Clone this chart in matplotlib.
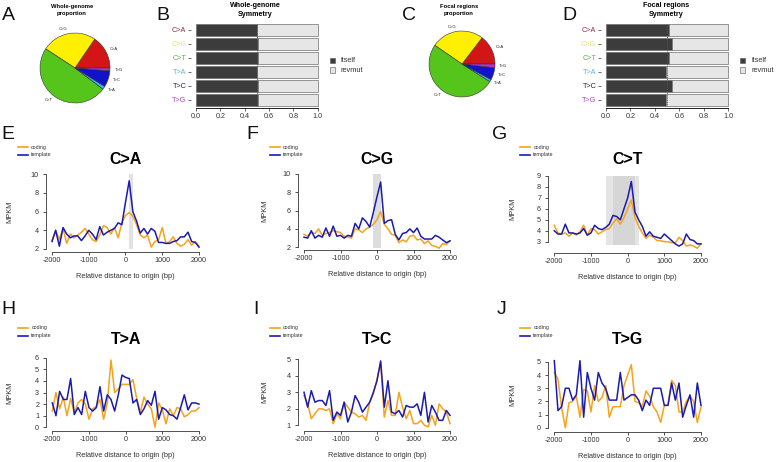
import matplotlib
matplotlib.use("Agg")
import matplotlib.pyplot as plt
from matplotlib.lines import Line2D
from matplotlib.patches import Rectangle
import numpy as np

plt.rcParams['font.family'] = ['Liberation Sans', 'DejaVu Sans']
plt.rcParams['axes.unicode_minus'] = False

W, H = 776, 462

# ---------------- data ----------------
mut_types = ["C>A", "C>G", "C>T", "T>A", "T>C", "T>G"]
pie_colors = ["#D41515", "#FFF000", "#55C41B", "#35B6E6", "#1212CC", "#C02EC8"]
label_colors = ["#8A2E3A", "#E8E25A", "#5DAE45", "#58B4DA", "#22224E", "#A848B0"]

whole_prop = [0.155, 0.253, 0.489, 0.015, 0.075, 0.013]
focal_prop = [0.146, 0.258, 0.506, 0.012, 0.060, 0.018]

whole_itself = [0.500, 0.510, 0.507, 0.502, 0.507, 0.507]
focal_itself = [0.518, 0.537, 0.518, 0.490, 0.537, 0.490]

dist = np.arange(-2000, 2001, 100)

ca_coding = [2.9, 4.0, 3.0, 4.2, 2.6, 3.6, 3.2, 3.5, 3.8, 4.2, 3.6, 3.0, 2.8, 3.5, 4.5, 4.3,
             3.6, 4.3, 3.2, 4.8, 5.6, 5.9, 5.5, 4.6, 3.5, 3.2, 3.5, 2.2, 2.8, 3.0, 4.3, 2.6,
             2.8, 3.3, 2.6, 2.3, 2.5, 3.0, 2.4, 2.8, 2.3]
ca_template = [2.8, 4.0, 2.3, 4.3, 3.6, 3.2, 3.4, 3.4, 2.9, 3.4, 4.0, 3.6, 3.0, 4.4, 3.5, 3.8,
               4.0, 4.2, 4.8, 4.6, 7.0, 9.3, 6.0, 5.0, 3.7, 4.2, 3.6, 4.2, 3.9, 2.7, 2.7, 2.6,
               2.6, 2.8, 2.9, 3.3, 3.3, 3.8, 2.8, 2.7, 2.2]

cg_coding = [3.4, 3.2, 3.6, 3.5, 4.0, 3.3, 3.5, 3.6, 3.8, 3.7, 3.6, 3.2, 3.1, 3.0, 4.0, 3.9,
             3.6, 4.0, 4.2, 4.5, 5.0, 5.9, 4.5, 4.0, 3.4, 3.3, 2.5, 2.8, 2.6, 3.2, 3.3, 2.8,
             2.9, 2.4, 2.7, 2.2, 2.1, 1.9, 2.4, 2.3, 2.7]
cg_template = [3.1, 3.0, 3.8, 3.0, 3.3, 3.1, 4.1, 3.2, 4.3, 3.2, 3.3, 3.0, 3.3, 3.2, 4.6, 4.0,
               5.2, 4.8, 4.2, 5.8, 7.5, 9.1, 4.6, 4.9, 5.0, 3.4, 2.8, 3.5, 3.6, 4.0, 3.6, 4.1,
               3.2, 2.9, 2.9, 2.9, 3.3, 3.1, 2.8, 2.5, 2.7]

ct_coding = [4.5, 3.8, 3.7, 3.8, 3.5, 3.8, 3.6, 3.9, 4.5, 3.6, 4.2, 4.1, 3.7, 3.9, 4.1, 4.2,
             4.7, 5.1, 4.6, 5.2, 6.0, 6.8, 5.2, 4.4, 3.8, 3.3, 3.6, 3.4, 3.1, 3.1, 3.0, 3.0,
             2.9, 2.9, 3.4, 3.1, 2.6, 2.7, 2.6, 2.4, 2.8]
ct_template = [4.0, 3.7, 3.7, 4.6, 3.8, 3.8, 3.7, 3.8, 4.2, 3.6, 3.8, 4.5, 4.2, 4.1, 4.3, 4.6,
               5.4, 5.3, 5.0, 6.0, 7.0, 8.5, 5.7, 5.0, 4.4, 3.5, 3.9, 3.5, 3.4, 3.3, 3.7, 3.4,
               3.1, 2.8, 2.6, 2.8, 3.7, 3.2, 3.1, 2.8, 2.8]

ta_coding = [1.4, 3.0, 1.6, 2.6, 1.0, 2.5, 1.2, 2.1, 2.4, 2.0, 0.7, 1.6, 1.8, 2.4, 0.7, 2.1,
             5.8, 3.0, 3.3, 3.7, 3.7, 3.7, 4.1, 2.5, 1.3, 2.6, 2.0, 1.6, 0.0, 2.1, 1.5, 0.3,
             1.6, 1.0, 1.7, 1.6, 0.9, 1.1, 1.4, 1.4, 1.7]
ta_template = [2.1, 1.0, 3.1, 2.4, 2.4, 4.2, 1.1, 1.7, 1.1, 3.1, 1.7, 1.4, 1.7, 3.5, 1.4, 2.8,
               2.4, 1.4, 2.8, 4.5, 4.3, 4.2, 2.1, 2.4, 1.1, 1.6, 2.3, 1.9, 3.1, 0.7, 1.7, 1.5,
               1.1, 1.0, 0.7, 1.7, 2.8, 1.5, 2.1, 2.1, 2.0]

tc_coding = [2.8, 2.3, 1.4, 1.7, 2.0, 2.0, 1.9, 2.0, 1.1, 1.7, 1.4, 2.4, 2.1, 1.8, 1.7, 1.5,
             1.6, 1.3, 2.4, 2.9, 3.8, 4.8, 1.5, 2.5, 1.6, 1.6, 3.0, 2.1, 1.4, 1.9, 1.1, 1.1,
             1.3, 1.0, 0.9, 1.6, 1.0, 2.3, 2.0, 1.8, 1.1]
tc_template = [3.0, 2.1, 3.1, 2.4, 2.5, 2.5, 2.2, 3.1, 1.3, 1.8, 1.6, 2.4, 1.2, 1.8, 2.8, 2.4,
               1.8, 2.1, 2.4, 3.0, 3.7, 4.9, 2.1, 3.7, 1.8, 1.7, 1.9, 1.5, 2.2, 2.1, 2.1, 2.3,
               1.6, 3.0, 1.2, 2.2, 1.8, 1.3, 1.3, 1.9, 1.6]

tg_coding = [4.2, 3.7, 1.5, 0.0, 1.9, 2.0, 2.4, 0.8, 2.9, 2.8, 1.2, 3.2, 2.0, 2.3, 3.2, 0.8,
             1.6, 1.6, 1.6, 3.2, 4.0, 4.8, 2.0, 1.9, 1.6, 2.8, 2.4, 1.6, 1.2, 0.4, 1.7, 1.7,
             3.6, 3.2, 1.2, 1.2, 2.0, 2.4, 2.0, 0.4, 1.6]
tg_template = [5.1, 1.3, 1.6, 3.0, 3.0, 2.1, 2.5, 5.1, 0.8, 4.2, 3.0, 2.1, 4.2, 3.4, 3.0, 2.1,
               2.1, 2.1, 4.2, 2.1, 2.3, 2.5, 2.5, 2.1, 1.3, 2.1, 1.7, 3.0, 3.0, 3.0, 1.7, 1.7,
               3.4, 2.1, 3.4, 0.8, 1.7, 2.5, 0.8, 3.4, 1.7]

CODING = "#F5A31A"
TEMPLATE = "#1B1BB0"

fig = plt.figure(figsize=(W / 100, H / 100), dpi=100)


def frect(l, t, r, b):
    return [l / W, 1 - b / H, (r - l) / W, (b - t) / H]


def ftext(x, y, s, **kw):
    fig.text(x / W, 1 - y / H, s, **kw)


# ---------------- pies ----------------
def pie_panel(cx, cy, r, props, title):
    ax = fig.add_axes(frect(cx - r, cy - r, cx + r, cy + r))
    ax.pie(props, colors=pie_colors, labels=mut_types, startangle=0,
           counterclock=True, labeldistance=1.13,
           wedgeprops=dict(edgecolor="#333333", linewidth=0.4),
           textprops=dict(fontsize=3, color="#222222"))
    ax.set_xlim(-1, 1)
    ax.set_ylim(-1, 1)
    ftext(cx - 3, 10, title, ha="center", va="center", fontsize=4.2,
          fontweight="bold", linespacing=1.5)


pie_panel(75, 68, 35, whole_prop, "Whole-genome\nproportion")
pie_panel(462, 64, 33, focal_prop, "Focal regions\nproportion")


# ---------------- symmetry bars ----------------
def bar_panel(px0, px1, itself, title, tcx, leg_x):
    w = px1 - px0
    ax = fig.add_axes(frect(px0 - 0.04 * w, 22, px1 + 0.04 * w, 108))
    y = np.arange(len(mut_types))
    itself = np.array(itself)
    ax.barh(y, itself, height=0.857, color="#3C3C3C", edgecolor="#6E6E6E", linewidth=0.5)
    ax.barh(y, 1 - itself, left=itself, height=0.857, color="#E6E6E6",
            edgecolor="#6E6E6E", linewidth=0.5)
    ax.vlines(0.5, y[0] - 0.45, y[-1] + 0.45, colors="#D02020", linewidth=0.6,
              linestyles=(0, (1.5, 1)))
    ax.set_xlim(-0.04, 1.04)
    ax.set_ylim(5 + 8 / 14, -8 / 14)
    for s in ["top", "right", "left"]:
        ax.spines[s].set_visible(False)
    ax.spines["bottom"].set_bounds(0, 1)
    ax.spines["bottom"].set_linewidth(0.6)
    ax.set_xticks(np.arange(0, 1.01, 0.2))
    ax.set_xticklabels(["0.0", "0.2", "0.4", "0.6", "0.8", "1.0"])
    ax.set_yticks(y)
    ax.set_yticklabels(mut_types)
    ax.tick_params(axis="both", labelsize=5.2, length=2, width=0.5, pad=1.5,
                   colors="#333333")
    for lab, c in zip(ax.get_yticklabels(), label_colors):
        lab.set_color(c)
    ftext(tcx, 10, title, ha="center", va="center", fontsize=5.1,
          fontweight="bold", linespacing=1.4)
    for yy, fc, name in [(60.5, "#3C3C3C", "itself"), (70, "#E6E6E6", "revmut")]:
        fig.add_artist(Rectangle((leg_x / W, 1 - (yy + 2.5) / H), 5 / W, 5 / H,
                                 facecolor=fc, edgecolor="#555555", linewidth=0.4,
                                 transform=fig.transFigure))
        ftext(leg_x + 11, yy, name, ha="left", va="center", fontsize=5.3, color="#333333")


bar_panel(196, 317.7, whole_itself, "Whole-genome\nSymmetry", 255, 329.5)
bar_panel(606, 728.3, focal_itself, "Focal regions\nSymmetry", 666, 740)


# ---------------- line panels ----------------
def line_panel(px0, px1, py_lo, py_hi, bottom_px, yticks, coding, template, bands,
               title, title_y, leg_y, ylab_x):
    y_lo, y_hi = yticks[0], yticks[-1]
    s = (py_lo - py_hi) / (y_hi - y_lo)
    ybot = y_lo - (bottom_px - py_lo) / s
    top_px = py_hi - 6
    ytop = y_hi + 6 / s
    w = px1 - px0
    ax = fig.add_axes(frect(px0 - 0.04 * w, top_px, px1 + 0.04 * w, bottom_px))
    for (a, b, lo, hi, c) in bands:
        ax.fill_betweenx([lo, hi], a, b, color=c, linewidth=0)
    ax.plot(dist, coding, color=CODING, lw=1.1)
    ax.plot(dist, template, color=TEMPLATE, lw=1.1)
    ax.set_xlim(-2160, 2160)
    ax.set_ylim(ybot, ytop)
    for sp in ["top", "right"]:
        ax.spines[sp].set_visible(False)
    ax.spines["bottom"].set_bounds(-2000, 2000)
    ax.spines["left"].set_bounds(y_lo, y_hi)
    for sp in ["bottom", "left"]:
        ax.spines[sp].set_linewidth(0.6)
        ax.spines[sp].set_color("#333333")
    ax.set_xticks([-2000, -1000, 0, 1000, 2000])
    ax.set_yticks(yticks)
    ax.tick_params(axis="both", labelsize=5.2, length=2.2, width=0.6, colors="#333333")
    ax.tick_params(axis="x", pad=1.3)
    ax.tick_params(axis="y", pad=3)
    cx = (px0 + px1) / 2
    ftext(cx, title_y, title, ha="center", va="center", fontsize=11.5, fontweight="bold")
    ftext(cx, bottom_px + 24.5, "Relative distance to origin (bp)", ha="center",
          va="center", fontsize=5.3, color="#333333")
    ftext(ylab_x, (py_lo + py_hi) / 2, "MPKM", ha="center", va="center", rotation=90,
          fontsize=5.3, color="#333333")
    lx = px0 - 34
    for yy, c, name in [(leg_y, CODING, "coding"), (leg_y + 7.5, TEMPLATE, "template")]:
        fig.add_artist(Line2D([lx / W, (lx + 10) / W], [1 - yy / H, 1 - yy / H],
                              color=c, lw=1.2, transform=fig.transFigure))
        ftext(lx + 13, yy, name, ha="left", va="center", fontsize=3.8, color="#333333")


line_panel(52, 199, 249, 174.3, 251.7, [2, 4, 6, 8, 10], ca_coding, ca_template,
           [(100, 200, 2, 10, "#E2E2E2")], "C>A", 159.5, 147, 10)
line_panel(304, 450, 247.3, 173.7, 250, [2, 4, 6, 8, 10], cg_coding, cg_template,
           [(-100, 100, 1.9, 10, "#DDDDDD")], "C>G", 159.5, 147, 265)
line_panel(554.3, 701, 241.7, 176, 253.3, [3, 4, 5, 6, 7, 8, 9], ct_coding, ct_template,
           [(-600, 300, 2.7, 9, "#E4E4E4"), (-400, 200, 2.7, 9, "#D6D6D6")],
           "C>T", 159.5, 147, 513)
line_panel(52.3, 199, 427.3, 357.7, 430.7, [0, 1, 2, 3, 4, 5, 6], ta_coding, ta_template,
           [], "T>A", 339, 328, 10)
line_panel(304, 450, 425.3, 359.3, 430.7, [1, 2, 3, 4, 5], tc_coding, tc_template,
           [], "T>C", 339, 328, 265)
line_panel(554.3, 701, 427.7, 362, 431.7, [0, 1, 2, 3, 4, 5], tg_coding, tg_template,
           [], "T>G", 339, 328, 513)

# ---------------- panel letters ----------------
for letter, x, y in [("A", 8.5, 15), ("B", 162.5, 15), ("C", 409, 15.5), ("D", 569, 15.5),
                     ("E", 7.5, 135), ("F", 252, 135), ("G", 500, 135),
                     ("H", 8, 309), ("I", 256, 309), ("J", 502, 309)]:
    ftext(x, y, letter, ha="center", va="center", fontsize=14, color="#111111")

fig.savefig("out.png", dpi=100)
